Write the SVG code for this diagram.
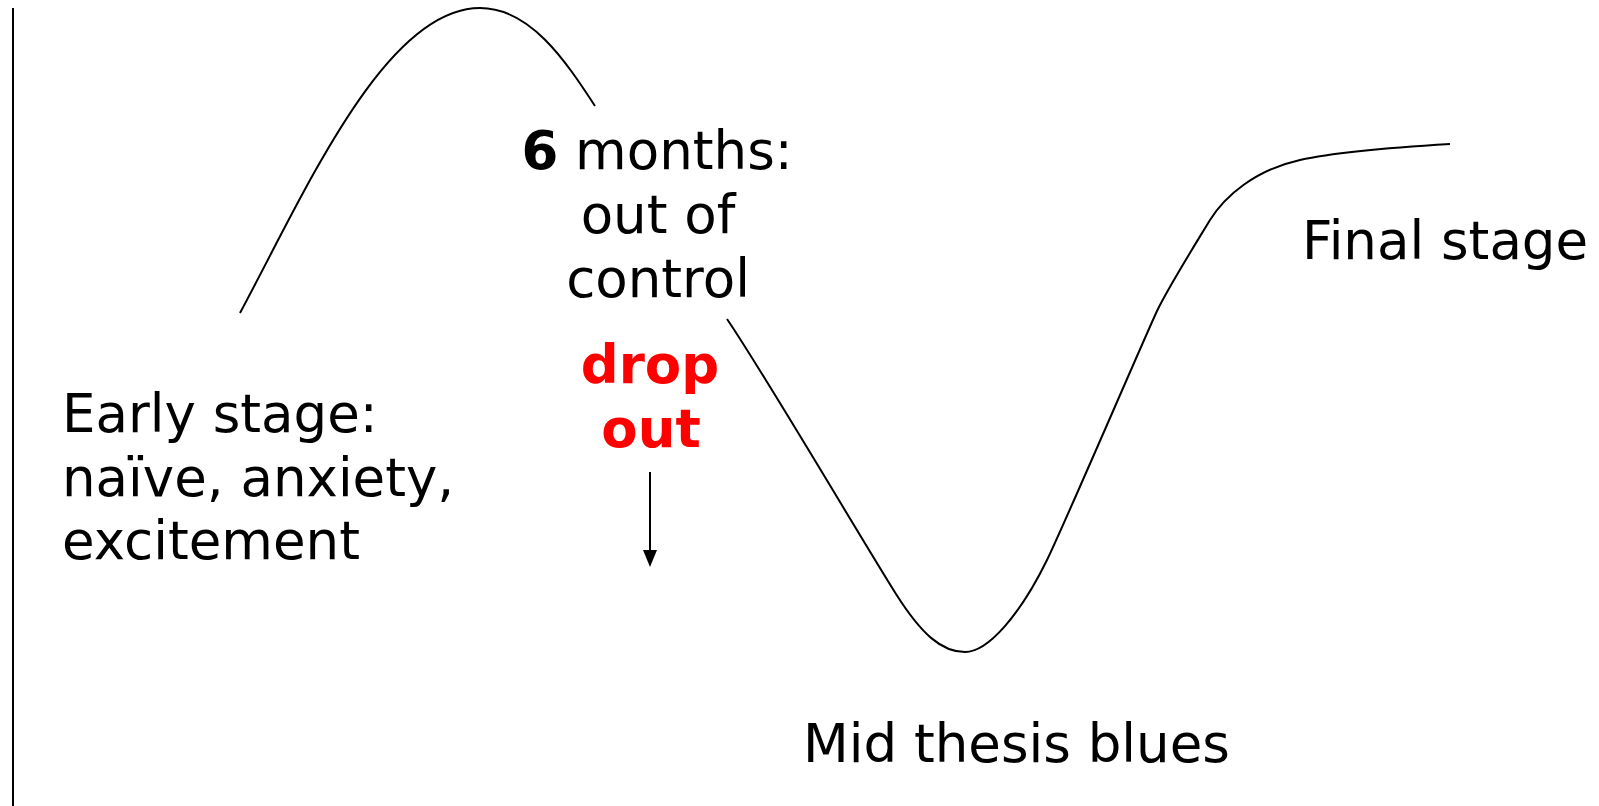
<svg xmlns="http://www.w3.org/2000/svg" width="1599" height="806" viewBox="0 0 1599 806">
<style>
.t{font-family:"DejaVu Sans","Verdana",sans-serif;font-size:53px;fill:#000}
.b{font-weight:bold}
.red{fill:#ff0000;font-weight:bold}
.curve{fill:none;stroke:#000;stroke-width:2}
</style>
<rect width="1599" height="806" fill="#fff"/>
<g id="connectors">
<line id="axis" x1="13" y1="8" x2="13" y2="806" stroke="#000" stroke-width="2"/>
<path id="curve1" class="curve" d="M240,313 C305,192 385,8 480,8 C530,8 565,60 595,106"/>
<path id="curve2" class="curve" d="M727,319 C765,375 862,540 896,594 C922,635 942,652 965,652 C988,652 1020,615 1047,560 C1065,523 1140,348 1157,311 C1168,288 1193,248 1210,220 C1225,196 1255,170 1300,160 C1340,151 1400,147 1450,144"/>
<path id="dropArrow" d="M650,472 L650,552" stroke="#000" stroke-width="2"/>
<polygon points="643,550 657,550 650,567" fill="#000"/>
</g>
<g id="early">
<text class="t" x="62" y="432">Early stage:</text>
<text class="t" x="62" y="496">naïve, anxiety,</text>
<text class="t" x="62" y="559">excitement</text>
</g>
<g id="six-months">
<text class="t" x="657" y="169" text-anchor="middle"><tspan class="b">6</tspan> months:</text>
<text class="t" x="658" y="233" text-anchor="middle">out of</text>
<text class="t" x="658" y="297" text-anchor="middle">control</text>
</g>
<g id="dropout">
<text class="t red" x="650" y="383" text-anchor="middle">drop</text>
<text class="t red" x="651" y="447" text-anchor="middle">out</text>
</g>
<g id="final">
<text class="t" x="1302" y="259">Final stage</text>
</g>
<g id="mid">
<text class="t" x="803" y="762">Mid thesis blues</text>
</g>
</svg>
